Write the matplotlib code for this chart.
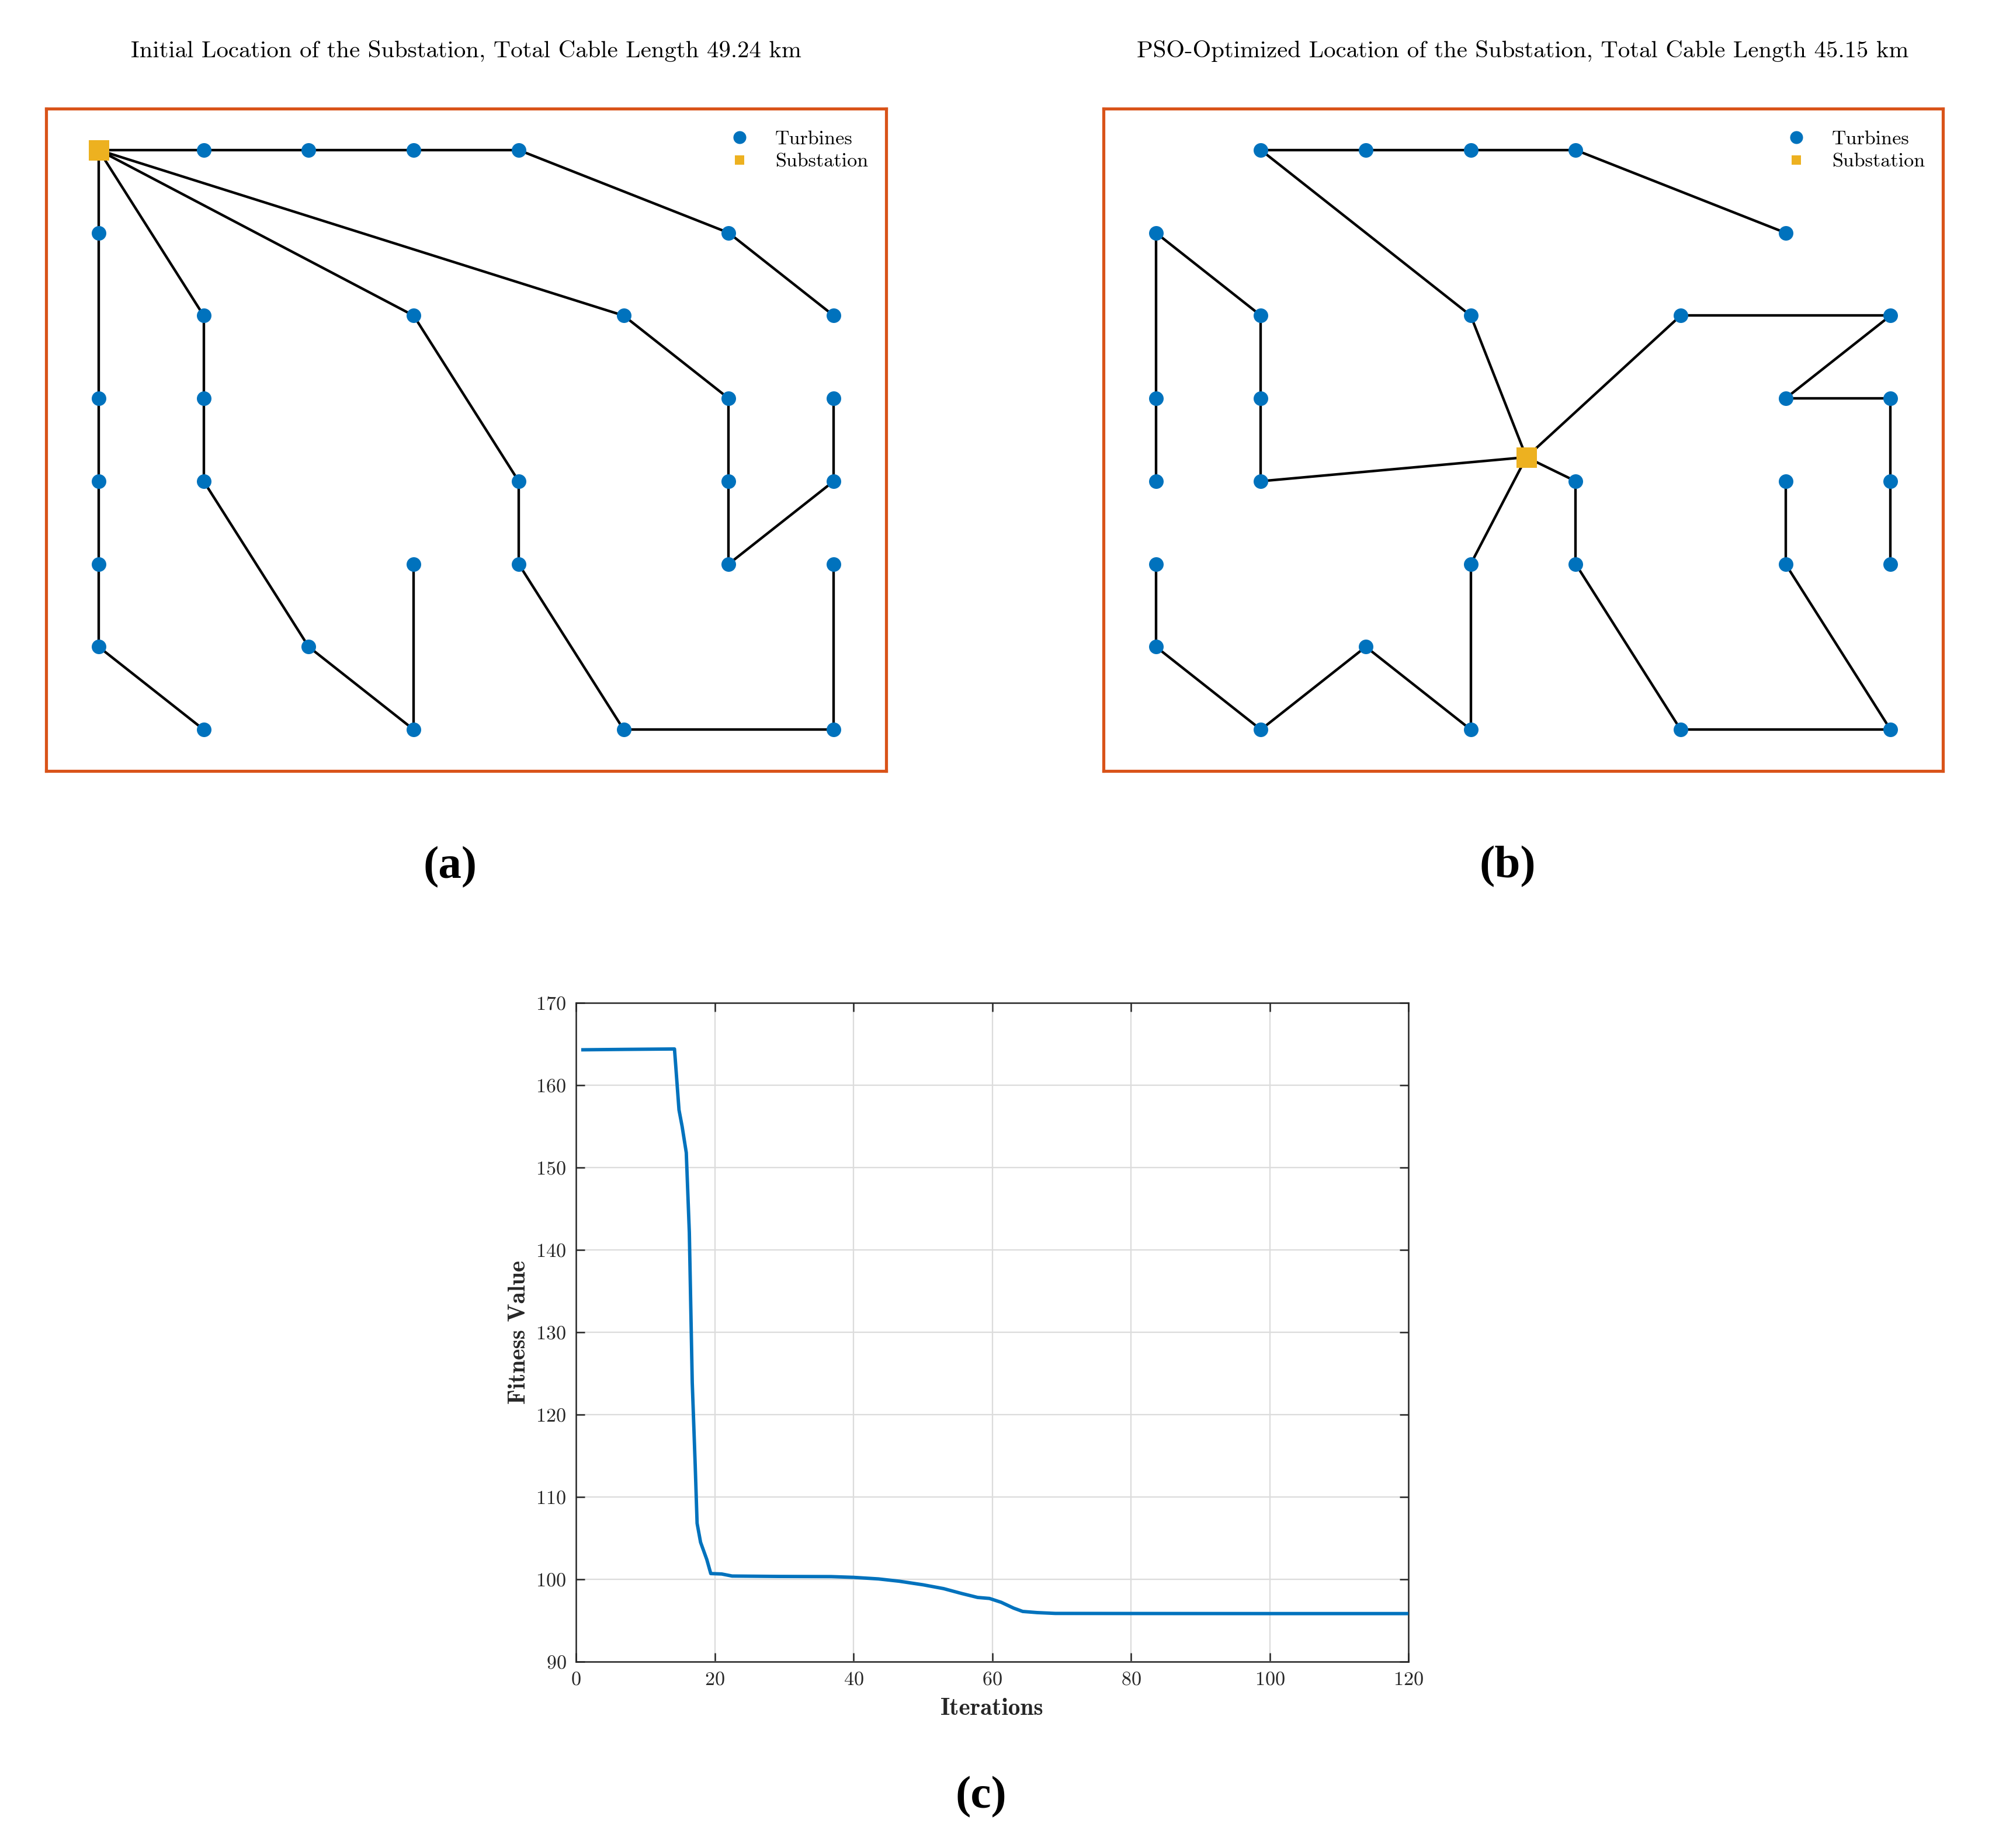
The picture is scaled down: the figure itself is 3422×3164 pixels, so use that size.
import matplotlib
matplotlib.use("Agg")
import matplotlib.pyplot as plt
from matplotlib.lines import Line2D

plt.rcParams['axes.formatter.use_mathtext'] = True

# ---------------- data ----------------
# turbine grid positions (km)
turb_x = [2, 3, 4, 5,
          1, 7,
          2, 4, 6, 8,
          1, 2, 7, 8,
          1, 2, 5, 7, 8,
          1, 4, 5, 7, 8,
          1, 3,
          2, 4, 6, 8]
turb_y = [8, 8, 8, 8,
          7, 7,
          6, 6, 6, 6,
          5, 5, 5, 5,
          4, 4, 4, 4, 4,
          3, 3, 3, 3, 3,
          2, 2,
          1, 1, 1, 1]

sub_initial = (1.0, 8.0)
sub_pso = (4.53, 4.29)

# cable edges (indices into turbine lists, -1 = substation)
edges_initial = [(-1, 0), (0, 1), (1, 2), (2, 3), (3, 5), (5, 9),
                 (-1, 4), (4, 10), (10, 14), (14, 19), (19, 24), (24, 26),
                 (-1, 6), (6, 11), (11, 15), (15, 25), (25, 27), (27, 20),
                 (-1, 7), (7, 16), (16, 21), (21, 28), (28, 29), (29, 23),
                 (-1, 8), (8, 12), (12, 17), (17, 22), (22, 18), (18, 13)]
edges_pso = [(0, 1), (1, 2), (2, 3), (3, 5), (0, 7), (7, -1),
             (4, 6), (4, 10), (10, 14), (6, 11), (11, 15), (15, -1),
             (-1, 8), (8, 9), (9, 12), (12, 13), (13, 18), (18, 23),
             (-1, 16), (16, 21), (21, 28), (28, 29), (29, 22), (22, 17),
             (-1, 20), (20, 27), (27, 25), (25, 26), (26, 24), (24, 19)]

titles = ["Initial Location of the Substation, Total Cable Length 49.24 km",
          "PSO-Optimized Location of the Substation, Total Cable Length 45.15 km"]

# convergence curve
iterations = [1, 7, 14.2, 14.85, 15.3, 15.9, 16.34, 16.76, 17.18, 17.46, 17.96,
              18.86, 19.43, 21.0, 22.5, 29.3, 36.8, 40.0, 43.6, 46.6, 50.0,
              53.0, 55.6, 57.9, 59.6, 61.3, 63.1, 64.4, 66.5, 69.1, 80, 100, 120]
fitness = [164.3, 164.35, 164.4, 157.0, 155.0, 151.8, 142.1, 123.9, 114.0, 106.8, 104.5,
           102.4, 100.7, 100.65, 100.4, 100.35, 100.33, 100.24, 100.05, 99.77, 99.34,
           98.87, 98.28, 97.80, 97.68, 97.21, 96.50, 96.10, 95.96, 95.86, 95.85, 95.84, 95.84]

BLUE = '#0072BD'
YELLOW = '#EDB120'
ORANGE = '#D95319'

W, H = 3422, 3164
fig = plt.figure(figsize=(W / 300, H / 300), dpi=300)


def fx(px):
    return px / W


def fy(py):
    return 1 - py / H


def draw_layout(ax, sub, edges):
    def pt(i):
        if i == -1:
            return sub
        return (turb_x[i], turb_y[i])
    for a, b in edges:
        p, q = pt(a), pt(b)
        ax.plot([p[0], q[0]], [p[1], q[1]], color='black', lw=1.05, zorder=2,
                solid_capstyle='round')
    ax.plot(turb_x, turb_y, 'o', color=BLUE, markersize=6.0, markeredgewidth=0, zorder=3)
    ax.plot([sub[0]], [sub[1]], 's', color=YELLOW, markersize=8.4, markeredgewidth=0, zorder=4)
    ax.set_xlim(0.5, 8.5)
    ax.set_ylim(0.5, 8.5)
    ax.set_xticks([])
    ax.set_yticks([])
    for s in ax.spines.values():
        s.set_color(ORANGE)
        s.set_linewidth(1.25)
    handles = [Line2D([], [], ls='none', marker='o', color=BLUE, markersize=5.3, markeredgewidth=0),
               Line2D([], [], ls='none', marker='s', color=YELLOW, markersize=4.0, markeredgewidth=0)]
    ax.legend(handles, ['Turbines', 'Substation'], loc='upper right',
              bbox_to_anchor=(0.993, 0.985), frameon=False,
              prop={'family': 'cmr10', 'size': 8.2}, handlelength=1.0,
              handletextpad=1.3, labelspacing=0.25, borderaxespad=0.2)


ax_a = fig.add_axes([fx(79), fy(1320), fx(1517 - 79), (1320 - 186) / H])
draw_layout(ax_a, sub_initial, edges_initial)
ax_b = fig.add_axes([fx(1889), fy(1320), fx(3326 - 1889), (1320 - 186) / H])
draw_layout(ax_b, sub_pso, edges_pso)

fig.text(fx(798), fy(87), titles[0], ha='center', va='center', family='cmr10', fontsize=9.8)
fig.text(fx(2607), fy(87), titles[1], ha='center', va='center', family='cmr10', fontsize=9.8)

# convergence plot
ax_c = fig.add_axes([fx(986), fy(2845), fx(2411 - 986), (2845 - 1717) / H])
ax_c.plot(iterations, fitness, color=BLUE, lw=1.4, zorder=3)
ax_c.set_xlim(0, 120)
ax_c.set_ylim(90, 170)
ax_c.set_xticks(range(0, 121, 20))
ax_c.set_yticks(range(90, 171, 10))
ax_c.grid(True, color='#dcdcdc', lw=0.55)
ax_c.set_axisbelow(True)
for s in ax_c.spines.values():
    s.set_color('#262626')
    s.set_linewidth(0.6)
ax_c.tick_params(direction='in', length=3.6, width=0.6, colors='#262626',
                 top=True, right=True, labelsize=8.2, pad=4)
for lab in ax_c.get_xticklabels() + ax_c.get_yticklabels():
    lab.set_family('cmr10')
    lab.set_color('#262626')
ax_c.set_xlabel('Iterations', family='cmb10', fontsize=9.9, color='#262626', labelpad=4)
ax_c.set_ylabel('Fitness Value', family='cmb10', fontsize=9.9, color='#262626', labelpad=2.5)

for txt, x, y in [('(a)', 771, 1485), ('(b)', 2581, 1484), ('(c)', 1679, 3077)]:
    fig.text(fx(x), fy(y), txt, ha='center', va='center', family='Liberation Serif',
             fontweight='bold', fontsize=19)

fig.savefig('out.png', dpi=300)
